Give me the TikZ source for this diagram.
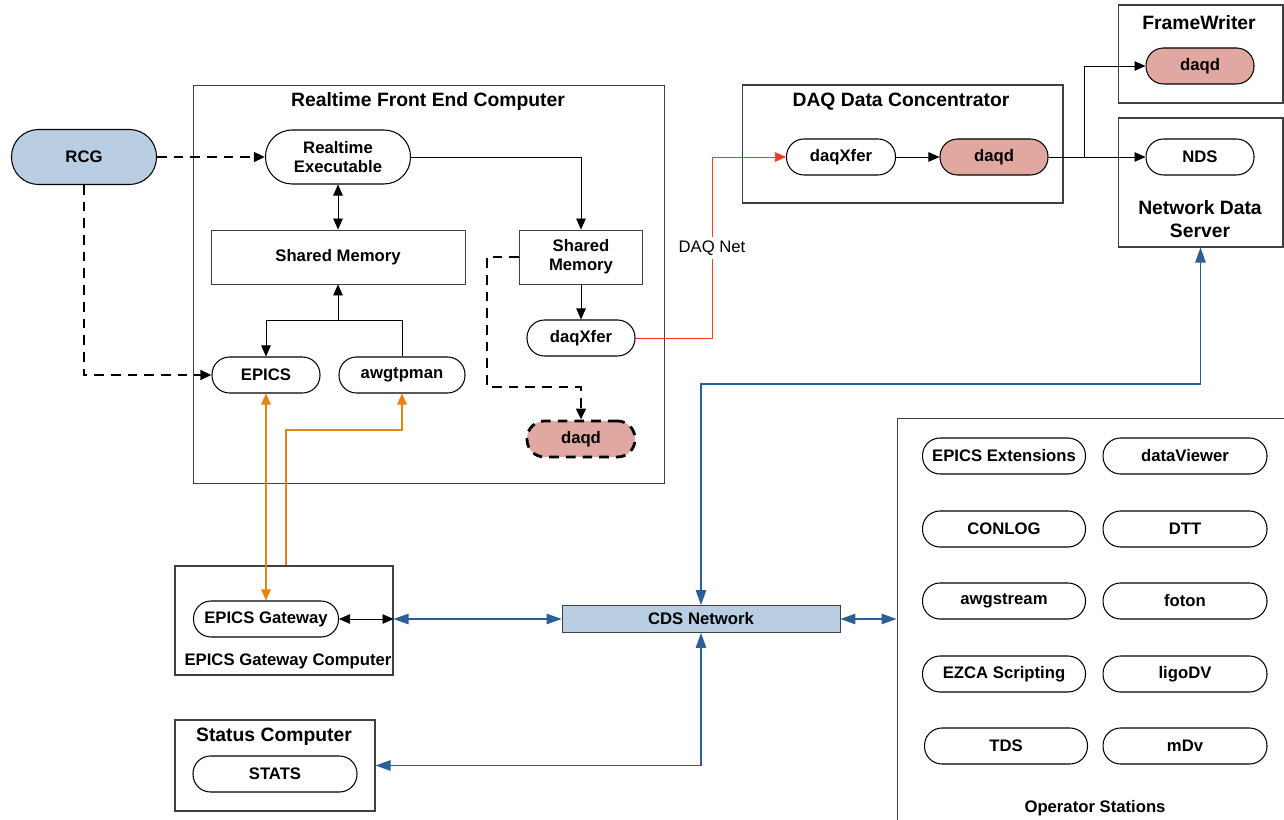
\documentclass[tikz,border=0pt]{standalone}
\usepackage{fontspec}
\setmainfont{Liberation Sans}
\usetikzlibrary{arrows.meta}
\definecolor{cdsblue}{HTML}{B9CDE3}
\definecolor{daqpink}{HTML}{E0A8A0}
\definecolor{netblue}{HTML}{2B5F95}
\definecolor{epicsorange}{HTML}{E8830E}
\definecolor{daqred}{HTML}{FF3B1E}
\definecolor{edgegray}{HTML}{404040}
\begin{document}
\begin{tikzpicture}[x=0.02cm,y=-0.02cm,
  pill/.style={draw=black,line width=0.6pt,rounded corners=0.35cm,minimum width=2.16cm,minimum height=0.72cm,fill=white,inner sep=1pt,font=\bfseries\fontsize{9.5}{11}\selectfont},
  rbox/.style={draw=edgegray,line width=0.5pt,fill=white,inner sep=1pt,font=\bfseries\fontsize{9.5}{11}\selectfont},
  box/.style={draw=edgegray,line width=0.6pt,inner sep=0pt},
  ttl/.style={font=\bfseries\fontsize{11}{13}\selectfont},
  lbl/.style={font=\bfseries\fontsize{9.5}{11}\selectfont},
  net/.style={fill=white,inner sep=2pt,font=\fontsize{9.5}{11}\selectfont},
  arr/.style={-{Triangle[length=0.22cm,width=0.19cm]}},
  darr/.style={{Triangle[length=0.22cm,width=0.19cm]}-{Triangle[length=0.22cm,width=0.19cm]}},
  dsh/.style={line width=1.6pt,dash pattern=on 5.5pt off 4pt},
  org/.style={epicsorange,line width=0.6pt},
  blu/.style={netblue,line width=0.6pt,{Triangle[length=0.3cm,width=0.21cm]}-{Triangle[length=0.3cm,width=0.21cm]}}]
\useasboundingbox (0,0) rectangle (1284,820);
\node[box,minimum width=9.44cm,minimum height=7.98cm](rfe) at (429,284.5) {};
\node[ttl](rfet) at (428,102) {Realtime Front End Computer};
\node[box,minimum width=6.42cm,minimum height=2.36cm](dcc) at (902.5,144) {};
\node[ttl](dcct) at (901,102) {DAQ Data Concentrator};
\node[box,minimum width=3.3cm,minimum height=1.96cm](fw) at (1200.5,54) {};
\node[ttl](fwt) at (1199,23) {FrameWriter};
\node[box,minimum width=3.3cm,minimum height=2.58cm](ndsc) at (1200.5,182.5) {};
\node[ttl,align=center](ndst) at (1200,219) {Network Data\\Server};
\node[box,minimum width=4.36cm,minimum height=2.18cm](gwc) at (284,620.5) {};
\node[lbl](gwct) at (288,661) {EPICS Gateway Computer};
\node[box,minimum width=4cm,minimum height=1.82cm](stc) at (275,765.5) {};
\node[ttl](stct) at (274,737) {Status Computer};
\node[box,minimum width=8.06cm,minimum height=8.44cm](ops) at (1098.5,629) {};
\node[lbl](opst) at (1095,808) {Operator Stations};
\node[pill,minimum width=2.9cm,minimum height=1.1cm,rounded corners=0.54cm,fill=cdsblue](rcg) at (84,157) {RCG};
\node[pill,minimum width=2.9cm,minimum height=1.08cm,rounded corners=0.53cm,align=center](rtexe) at (338,157) {Realtime\\Executable};
\node[rbox,minimum width=5.08cm,minimum height=1.08cm](shm) at (338,257) {Shared Memory};
\node[rbox,minimum width=2.46cm,minimum height=1.08cm,align=center](shm2) at (581,257) {Shared\\Memory};
\node[pill](xfer1) at (581,338) {daqXfer};
\node[pill](epics) at (266,375) {EPICS};
\node[pill,minimum width=2.52cm](awg) at (402,375) {awgtpman};
\node[pill,dsh,fill=daqpink](daqd1) at (581,439) {daqd};
\node[pill,minimum width=2.18cm](xfer2) at (841,157) {daqXfer};
\node[pill,fill=daqpink](daqd2) at (994,157) {daqd};
\node[pill,fill=daqpink](daqd3) at (1200,66) {daqd};
\node[pill](nds) at (1200,157) {NDS};
\node[pill,minimum width=2.9cm](gw) at (266,619) {EPICS Gateway};
\node[rbox,minimum width=5.56cm,minimum height=0.54cm,fill=cdsblue](cds) at (701,619) {CDS Network};
\node[pill,minimum width=3.28cm](stats) at (275,774) {STATS};
\node[pill,minimum width=3.26cm](opext) at (1004,456) {EPICS Extensions};
\node[pill,minimum width=3.28cm](dview) at (1185,456) {dataViewer};
\node[pill,minimum width=3.26cm](conlog) at (1004,529) {CONLOG};
\node[pill,minimum width=3.28cm](dtt) at (1185,529) {DTT};
\node[pill,minimum width=3.26cm](awgs) at (1004,601) {awgstream};
\node[pill,minimum width=3.28cm](foton) at (1185,601) {foton};
\node[pill,minimum width=3.26cm](ezca) at (1004,674) {EZCA Scripting};
\node[pill,minimum width=3.28cm](ligodv) at (1185,674) {ligoDV};
\node[pill,minimum width=3.26cm](tds) at (1006,746) {TDS};
\node[pill,minimum width=3.28cm](mdv) at (1185,746) {mDv};
\draw[dsh,arr] (rcg.east) -- (rtexe.west);
\draw[dsh,arr] (rcg.south) |- (epics.west);
\draw[arr] (rtexe.east) -| (shm2.north);
\draw[darr] (rtexe.south) -- (shm.north);
\coordinate (smj) at (338,320);
\draw[arr] (smj) -- (shm.south);
\draw[arr] (smj) -| (epics.north);
\draw (smj) -| (awg.north);
\draw[arr] (shm2.south) -- (xfer1.north);
\coordinate (dqj) at (487,387);
\draw[dsh,arr] (shm2.west) -| (dqj) -| (daqd1.north);
\coordinate (netj) at (712,248);
\draw[daqred,arr] (xfer1.east) -| (netj) |- (xfer2.west);
\node[net](dnet) at (netj) {DAQ Net};
\draw[arr] (xfer2.east) -- (daqd2.west);
\draw[arr] (daqd2.east) -- (nds.west);
\coordinate (fwj) at (1084,157);
\draw[arr] (fwj) |- (daqd3.west);
\draw[org,darr] (epics.south) -- (gw.north);
\coordinate (awj) at (286,430);
\draw[org,arr] (awj |- gwc.north) -- (awj) -| (awg.south);
\draw[darr] (gw.east) -- (gw.east -| gwc.east);
\draw[blu] (gw.east -| gwc.east) -- (cds.west);
\coordinate (ndj) at (701,384);
\draw[blu] (cds.north) -- (ndj) -| (ndsc.south);
\draw[blu] (stc.east) -| (cds.south);
\draw[blu] (cds.east) -- (cds.east -| ops.west);
\end{tikzpicture}
\end{document}
